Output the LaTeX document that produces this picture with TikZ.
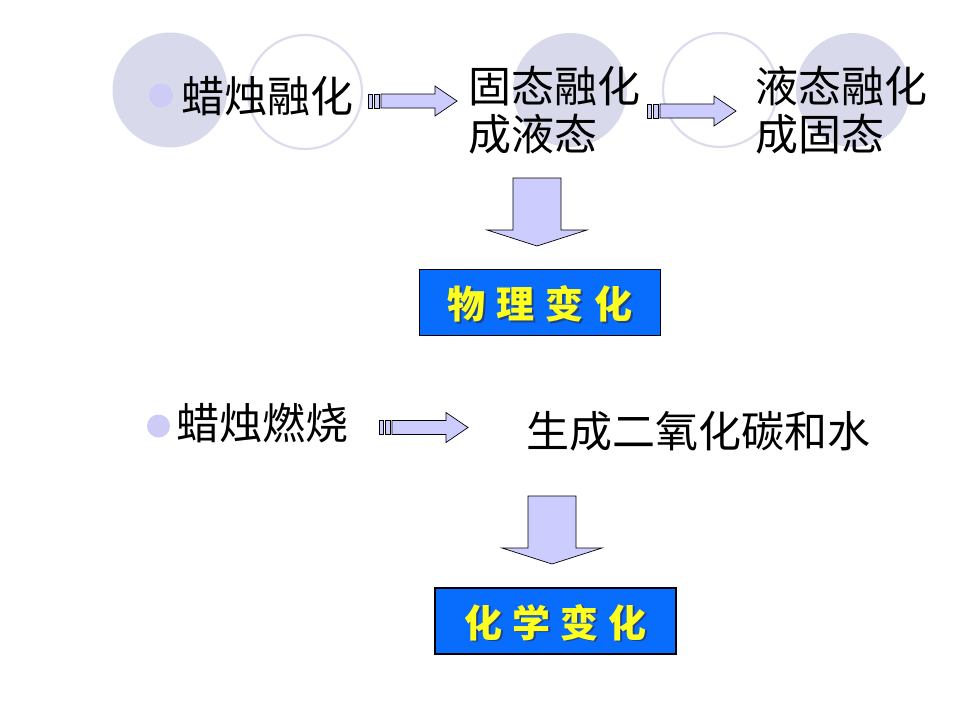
\documentclass[tikz,border=0pt]{standalone}
\usepackage{fontspec}
\newfontfamily\cjk{Noto Sans CJK SC}
\definecolor{circfill}{RGB}{217,217,236}
\definecolor{circline}{RGB}{220,220,237}
\definecolor{bulletc}{RGB}{204,204,246}
\definecolor{arrowfill}{RGB}{204,204,255}
\definecolor{boxblue}{RGB}{8,108,252}
\definecolor{boxtext}{RGB}{255,255,30}
\definecolor{shadowc}{RGB}{40,40,70}
\tikzset{
  bigtext/.style={inner sep=0pt, anchor=base west, font=\cjk\fontsize{43}{48}\selectfont},
  boxlabel/.style={inner sep=0pt, anchor=base, text=boxtext, font=\cjk\bfseries\fontsize{38}{42}\selectfont},
  boxshadow/.style={inner sep=0pt, anchor=base, text=shadowc, opacity=0.6, font=\cjk\bfseries\fontsize{38}{42}\selectfont},
  resultbox/.style={draw=black, line width=1.2pt, fill=boxblue, minimum width=241pt, minimum height=66pt, inner sep=0pt},
  decofill/.style={fill=circfill},
  decoline/.style={draw=circline, line width=2.2pt},
  bulletdot/.style={fill=bulletc},
  blockarrow/.style={draw=black, line width=0.7pt, fill=arrowfill, line join=miter},
  pics/rarrow/.style={code={
    \draw[blockarrow] (0,-7) rectangle (4,7);
    \draw[blockarrow] (6,-7) rectangle (11,7);
    \draw[blockarrow] (13,-7) -- (67,-7) -- (67,-15) -- (89,0) -- (67,15) -- (67,7) -- (13,7) -- cycle;
  }},
  pics/darrow/.style={code={
    \draw[blockarrow] (-24,0) -- (24,0) -- (24,52) -- (50,52) -- (0,68) -- (-50,52) -- (-24,52) -- cycle;
  }}
}
\begin{document}
\begin{tikzpicture}[x=1pt,y=-1pt]
\useasboundingbox (0,0) rectangle (960,720);
\fill[white] (0,0) rectangle (960,720);
% decorative circles
\fill[decofill] (170,90) circle (57.5);
\draw[decoline] (305,92) circle (57);
\fill[decofill] (570,90) circle (57);
\draw[decoline] (720,90) circle (57);
\fill[decofill] (853,90) circle (57);
% bullets
\fill[bulletdot] (161,95.5) circle (12);
\fill[bulletdot] (158.5,426) circle (11.5);
% top row texts
\node[bigtext] (melt) at (181,112) {蜡烛融化};
\node[bigtext] (s2a) at (468,102) {固态融化};
\node[bigtext] (s2b) at (468,150) {成液态};
\node[bigtext] (s3a) at (755,102) {液态融化};
\node[bigtext] (s3b) at (755,150) {成固态};
% arrows top row
\pic at (368,101) {rarrow};
\pic at (647,111) {rarrow};
\pic at (537,178) {darrow};
% box 1
\node[resultbox] (phys) at (540,302.5) {};
\node[boxshadow] at (541.8,320.3) {物\hspace{11pt}理\hspace{11pt}变\hspace{11pt}化};
\node[boxlabel] (physlabel) at (540,318.5) {物\hspace{11pt}理\hspace{11pt}变\hspace{11pt}化};
% second row
\node[bigtext] (burn) at (176,439) {蜡烛燃烧};
\node[bigtext] (prod) at (526,447) {生成二氧化碳和水};
\pic at (379,427.5) {rarrow};
\pic at (552,496) {darrow};
% box 2
\node[resultbox] (chem) at (555.5,621) {};
\node[boxshadow] at (557.3,638.8) {化\hspace{10pt}学\hspace{10pt}变\hspace{10pt}化};
\node[boxlabel] (chemlabel) at (555.5,637) {化\hspace{10pt}学\hspace{10pt}变\hspace{10pt}化};
\end{tikzpicture}
\end{document}
